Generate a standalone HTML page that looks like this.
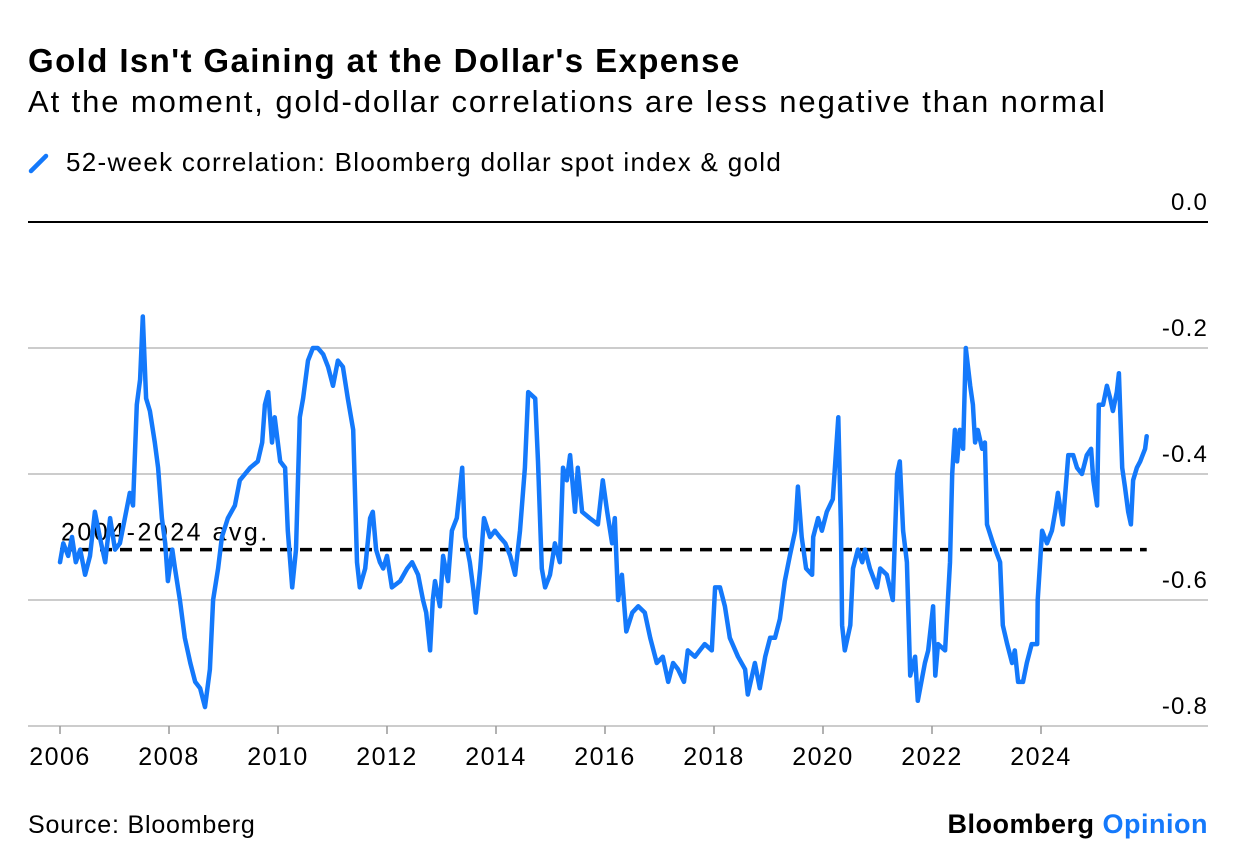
<!DOCTYPE html>
<html><head><meta charset="utf-8">
<style>
body{margin:0;background:#fff;font-family:"Liberation Sans",sans-serif;}
#wrap{position:relative;width:1237px;height:868px;overflow:hidden;}
.t{position:absolute;white-space:nowrap;color:#000;}
</style></head><body>
<div id="wrap">
<div class="t" style="left:28px;top:42px;font-size:33px;font-weight:bold;letter-spacing:1.4px;">Gold Isn't Gaining at the Dollar's Expense</div>
<div class="t" style="left:28px;top:84px;font-size:31px;letter-spacing:1.9px;">At the moment, gold-dollar correlations are less negative than normal</div>
<div class="t" style="left:28px;top:147px;font-size:26px;letter-spacing:1.3px;">
<svg width="22" height="22" style="vertical-align:-3px;margin-right:16px"><line x1="3" y1="19" x2="18" y2="4" stroke="#1479fb" stroke-width="4.5" stroke-linecap="round"/></svg>52-week correlation: Bloomberg dollar spot index &amp; gold</div>
<svg id="chart" width="1237" height="868" style="position:absolute;left:0;top:0"></svg>
<div class="t" style="left:28px;top:811px;font-size:25px;letter-spacing:0.8px;">Source: Bloomberg</div>
<div class="t" style="right:29px;top:809px;font-size:27px;font-weight:bold;letter-spacing:0.5px;">Bloomberg <span style="color:#1479fb">Opinion</span></div>
</div>
<script>
const years=[2006.00,2006.06,2006.15,2006.22,2006.29,2006.37,2006.46,2006.55,2006.64,2006.73,2006.83,2006.92,2007.01,2007.10,2007.19,2007.28,2007.34,2007.41,2007.47,2007.52,2007.58,2007.65,2007.74,2007.80,2007.87,2007.93,2007.98,2008.06,2008.11,2008.20,2008.29,2008.39,2008.48,2008.57,2008.66,2008.75,2008.81,2008.90,2008.97,2009.08,2009.21,2009.30,2009.49,2009.63,2009.71,2009.76,2009.82,2009.89,2009.94,2010.04,2010.13,2010.18,2010.26,2010.33,2010.40,2010.46,2010.55,2010.64,2010.73,2010.83,2010.92,2011.01,2011.10,2011.19,2011.28,2011.38,2011.45,2011.50,2011.60,2011.69,2011.74,2011.80,2011.87,2011.93,2012.00,2012.09,2012.24,2012.37,2012.46,2012.57,2012.66,2012.72,2012.79,2012.84,2012.88,2012.97,2013.03,2013.12,2013.19,2013.28,2013.38,2013.43,2013.52,2013.58,2013.63,2013.71,2013.78,2013.89,2013.98,2014.07,2014.17,2014.26,2014.35,2014.44,2014.53,2014.59,2014.72,2014.77,2014.84,2014.90,2014.99,2015.08,2015.17,2015.23,2015.30,2015.36,2015.45,2015.50,2015.58,2015.72,2015.87,2015.96,2016.04,2016.13,2016.18,2016.24,2016.31,2016.39,2016.50,2016.61,2016.73,2016.83,2016.95,2017.06,2017.16,2017.25,2017.34,2017.45,2017.52,2017.65,2017.74,2017.83,2017.96,2018.02,2018.11,2018.20,2018.29,2018.44,2018.57,2018.62,2018.75,2018.84,2018.94,2019.03,2019.12,2019.21,2019.30,2019.39,2019.49,2019.54,2019.61,2019.69,2019.80,2019.82,2019.91,2019.98,2020.07,2020.18,2020.28,2020.33,2020.35,2020.40,2020.50,2020.55,2020.64,2020.72,2020.77,2020.86,2020.99,2021.05,2021.17,2021.28,2021.36,2021.41,2021.47,2021.54,2021.60,2021.69,2021.74,2021.87,2021.93,2022.02,2022.06,2022.11,2022.24,2022.33,2022.37,2022.42,2022.46,2022.51,2022.57,2022.62,2022.70,2022.75,2022.79,2022.84,2022.92,2022.97,2023.01,2023.12,2023.25,2023.30,2023.38,2023.47,2023.52,2023.58,2023.67,2023.74,2023.83,2023.93,2023.94,2024.02,2024.11,2024.20,2024.26,2024.31,2024.40,2024.50,2024.59,2024.66,2024.75,2024.84,2024.92,2024.96,2025.03,2025.06,2025.14,2025.21,2025.27,2025.32,2025.39,2025.43,2025.49,2025.54,2025.60,2025.65,2025.69,2025.76,2025.82,2025.91,2025.94];
const corr=[-0.54,-0.51,-0.53,-0.50,-0.54,-0.52,-0.56,-0.53,-0.46,-0.50,-0.54,-0.47,-0.52,-0.51,-0.47,-0.43,-0.45,-0.29,-0.25,-0.15,-0.28,-0.30,-0.35,-0.39,-0.47,-0.51,-0.57,-0.52,-0.55,-0.60,-0.66,-0.70,-0.73,-0.74,-0.77,-0.71,-0.60,-0.55,-0.50,-0.47,-0.45,-0.41,-0.39,-0.38,-0.35,-0.29,-0.27,-0.35,-0.31,-0.38,-0.39,-0.49,-0.58,-0.52,-0.31,-0.28,-0.22,-0.20,-0.20,-0.21,-0.23,-0.26,-0.22,-0.23,-0.28,-0.33,-0.54,-0.58,-0.55,-0.47,-0.46,-0.52,-0.54,-0.55,-0.53,-0.58,-0.57,-0.55,-0.54,-0.56,-0.60,-0.62,-0.68,-0.60,-0.57,-0.61,-0.53,-0.57,-0.49,-0.47,-0.39,-0.50,-0.54,-0.58,-0.62,-0.55,-0.47,-0.50,-0.49,-0.50,-0.51,-0.53,-0.56,-0.49,-0.39,-0.27,-0.28,-0.38,-0.55,-0.58,-0.56,-0.51,-0.54,-0.39,-0.41,-0.37,-0.46,-0.39,-0.46,-0.47,-0.48,-0.41,-0.46,-0.51,-0.47,-0.60,-0.56,-0.65,-0.62,-0.61,-0.62,-0.66,-0.70,-0.69,-0.73,-0.70,-0.71,-0.73,-0.68,-0.69,-0.68,-0.67,-0.68,-0.58,-0.58,-0.61,-0.66,-0.69,-0.71,-0.75,-0.70,-0.74,-0.69,-0.66,-0.66,-0.63,-0.57,-0.53,-0.49,-0.42,-0.50,-0.55,-0.56,-0.50,-0.47,-0.49,-0.46,-0.44,-0.31,-0.49,-0.64,-0.68,-0.64,-0.55,-0.52,-0.54,-0.52,-0.55,-0.58,-0.55,-0.56,-0.60,-0.40,-0.38,-0.49,-0.54,-0.72,-0.69,-0.76,-0.70,-0.68,-0.61,-0.72,-0.67,-0.68,-0.54,-0.40,-0.33,-0.38,-0.33,-0.36,-0.20,-0.26,-0.29,-0.35,-0.33,-0.36,-0.35,-0.48,-0.51,-0.54,-0.64,-0.67,-0.70,-0.68,-0.73,-0.73,-0.70,-0.67,-0.67,-0.60,-0.49,-0.51,-0.49,-0.46,-0.43,-0.48,-0.37,-0.37,-0.39,-0.40,-0.37,-0.36,-0.41,-0.45,-0.29,-0.29,-0.26,-0.28,-0.30,-0.27,-0.24,-0.39,-0.42,-0.46,-0.48,-0.41,-0.39,-0.38,-0.36,-0.34];
const avgValue=-0.52;
const avgRange=[2006.0,2025.94];
const yTicks=[0,-0.2,-0.4,-0.6,-0.8];
const yTickLabels=["0.0","-0.2","-0.4","-0.6","-0.8"];
const xTicks=[2006,2008,2010,2012,2014,2016,2018,2020,2022,2024];

const NS="http://www.w3.org/2000/svg";
const svg=document.getElementById('chart');
const X=yr=>60+(yr-2006)*54.5;
const Y=v=>222-v*630;
function mk(tag,attrs){const e=document.createElementNS(NS,tag);for(const k in attrs)e.setAttribute(k,attrs[k]);svg.appendChild(e);return e;}

yTicks.forEach((t,i)=>{
  const y=Y(t);
  const ln=mk('line',{x1:28,x2:1208,y1:y,y2:y,stroke:t===0?'#000':'#cccccc','stroke-width':2});
  
  
  const tx=mk('text',{x:1208,y:y-12,'text-anchor':'end','font-size':24,'letter-spacing':1.2,'font-family':'Liberation Sans, sans-serif',fill:'#000'});
  tx.textContent=yTickLabels[i];
  
  
});
xTicks.forEach(t=>{
  const x=X(t);
  const tk=mk('line',{x1:x,x2:x,y1:Y(-0.8),y2:Y(-0.8)+8,stroke:'#999','stroke-width':1.5});
  
  
  const tx=mk('text',{x:x,y:765,'text-anchor':'middle','font-size':25,'letter-spacing':1.5,'font-family':'Liberation Sans, sans-serif',fill:'#000'});
  tx.textContent=String(t);
  
  
});
const avg=mk('line',{x1:X(avgRange[0]),x2:X(avgRange[1]),y1:Y(avgValue),y2:Y(avgValue),stroke:'#000','stroke-width':3.5,'stroke-dasharray':'12 8'});


const at=mk('text',{x:61,y:Y(avgValue)-9,'font-size':25,'letter-spacing':2.5,'font-family':'Liberation Sans, sans-serif',fill:'#000'});
at.textContent='2004-2024 avg.';


const d=years.map((yr,i)=>(i?'L':'M')+X(yr).toFixed(1)+' '+Y(corr[i]).toFixed(1)).join(' ');
const p=mk('path',{d:d,fill:'none',stroke:'#1479fb','stroke-width':4.5,'stroke-linejoin':'round','stroke-linecap':'round'});


</script>
</body></html>
